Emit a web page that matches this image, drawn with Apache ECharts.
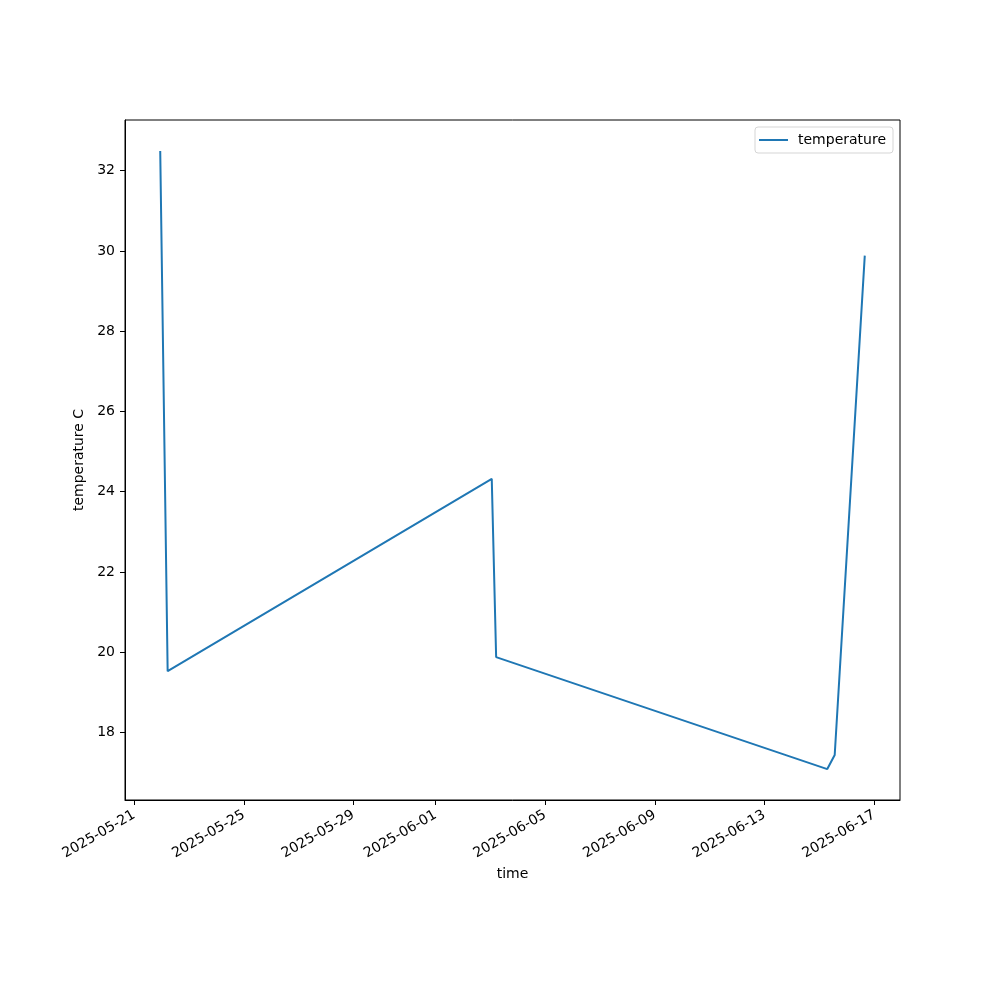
<!DOCTYPE html>
<html>
<head>
<meta charset="utf-8">
<script src="https://cdn.jsdelivr.net/npm/echarts@6/dist/echarts.min.js"></script>
<style>html,body{margin:0;padding:0;background:#fff}#c{width:1000px;height:1000px}</style>
</head>
<body>
<div id="c"></div>
<script>
var times = ['2025-05-21T22:50:00', '2025-05-22T05:20:00', '2025-06-03T01:10:00', '2025-06-03T05:00:00', '2025-06-15T07:00:00', '2025-06-15T13:30:00', '2025-06-16T15:50:00'];
var temperature = [32.49, 19.53, 24.32, 19.88, 17.09, 17.44, 29.88];
var xTickLabels = ['2025-05-21', '2025-05-25', '2025-05-29', '2025-06-01', '2025-06-05', '2025-06-09', '2025-06-13', '2025-06-17'];
var yTicks = [18, 20, 22, 24, 26, 28, 30, 32];

var ts = times.map(function (t) { return new Date(t).getTime(); });
var data = ts.map(function (t, i) { return [t, temperature[i]]; });
var xMinD = Math.min.apply(null, ts), xMaxD = Math.max.apply(null, ts);
var xs = xMaxD - xMinD;
var yMinD = Math.min.apply(null, temperature), yMaxD = Math.max.apply(null, temperature);
var ys = yMaxD - yMinD;
var xTickVals = xTickLabels.map(function (d) { return new Date(d + 'T00:00:00').getTime(); });
function pad(n){return n<10?'0'+n:''+n;}
function fmt(v){var d=new Date(v);return d.getFullYear()+'-'+pad(d.getMonth()+1)+'-'+pad(d.getDate());}

var font = 'DejaVu Sans';
var chart = echarts.init(document.getElementById('c'), null, {renderer: 'canvas'});
chart.setOption({
  animation: false,
  backgroundColor: '#fff',
  textStyle: {fontFamily: font},
  grid: {left: 125, right: 100, top: 120, bottom: 200, show: true, borderColor: '#000', borderWidth: 1, containLabel: false},
  legend: {
    right: 107, top: 127, orient: 'vertical',
    data: [{name: 'temperature', icon: 'rect'}],
    backgroundColor: '#fff', borderColor: '#d5d5d5', borderWidth: 1, borderRadius: 3,
    padding: [6, 7, 6, 4], itemWidth: 29, itemHeight: 2, itemGap: 5,
    textStyle: {fontFamily: font, fontSize: 14, color: '#000', padding: [0, 0, 0, 5]}
  },
  xAxis: {
    type: 'value',
    min: xMinD - 0.05 * xs, max: xMaxD + 0.05 * xs,
    name: 'time', nameLocation: 'middle', nameGap: 67,
    nameTextStyle: {fontFamily: font, fontSize: 14, color: '#000'},
    splitLine: {show: false},
    axisLine: {show: true, onZero: false, lineStyle: {color: '#000', width: 1}},
    axisTick: {show: true, length: 5, inside: false, lineStyle: {color: '#000'}, customValues: xTickVals},
    axisLabel: {rotate: 30, margin: 14, showMinLabel: true, showMaxLabel: true, fontFamily: font, fontSize: 14, color: '#000', customValues: xTickVals, formatter: function (v) { return fmt(v); }}
  },
  yAxis: {
    type: 'value',
    min: yMinD - 0.05 * ys, max: yMaxD + 0.05 * ys,
    name: 'temperature C', nameLocation: 'middle', nameGap: 34,
    nameTextStyle: {fontFamily: font, fontSize: 14, color: '#000'},
    splitLine: {show: false},
    axisLine: {show: true, onZero: false, lineStyle: {color: '#000', width: 1}},
    axisTick: {show: true, length: 5, inside: false, lineStyle: {color: '#000'}, customValues: yTicks},
    axisLabel: {margin: 10, fontFamily: font, fontSize: 14, color: '#000', customValues: yTicks, formatter: function (v) { return String(v); }}
  },
  series: [{
    name: 'temperature', type: 'line', data: data, symbol: 'none', showSymbol: false,
    lineStyle: {color: '#1f77b4', width: 2}, itemStyle: {color: '#1f77b4'}
  }]
});
</script>
</body>
</html>
